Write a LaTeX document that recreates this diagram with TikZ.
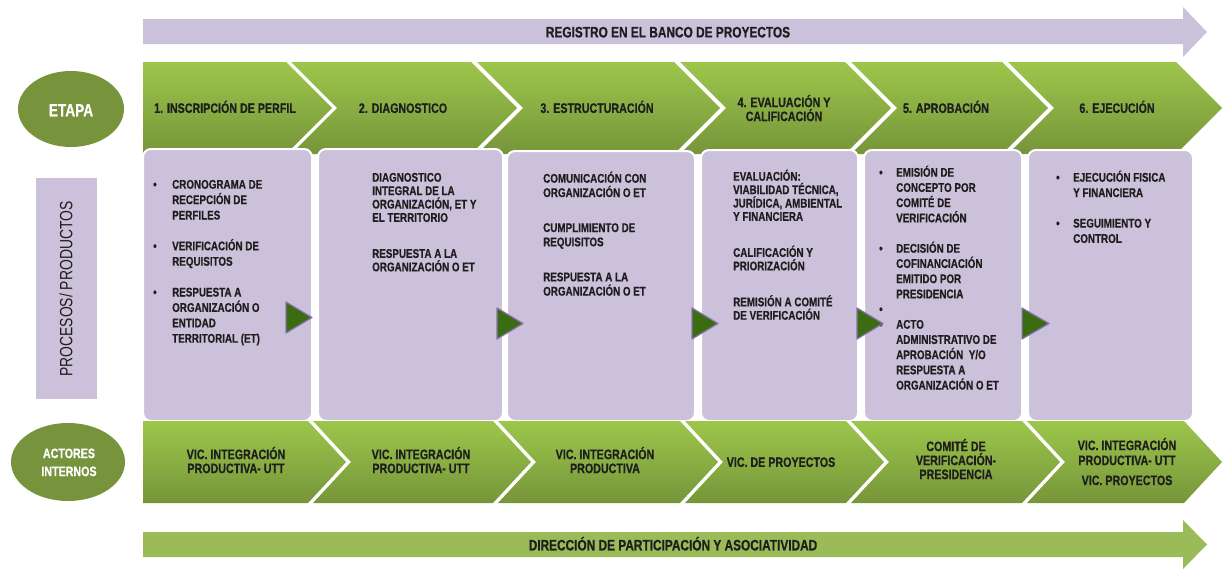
\documentclass[tikz,border=0pt]{standalone}
\usepackage{fontspec}
\newfontfamily\nf{Liberation Sans}[FakeStretch=0.78, BoldFeatures={FakeBold=0.6}]
\usetikzlibrary{shapes.geometric}
\definecolor{lila}{HTML}{CCC1DA}
\definecolor{gtop}{HTML}{9DC64B}
\definecolor{gbot}{HTML}{76953A}
\definecolor{oliv}{HTML}{77933C}
\definecolor{arrg}{HTML}{9BBB59}
\definecolor{trig}{HTML}{3B6C12}
\definecolor{trib}{HTML}{8A72AE}
\definecolor{txt}{HTML}{1E1E1E}
\newcommand{\bul}[1]{\makebox[#1][l]{•}}
\newcommand{\hin}[1]{\hspace*{#1}}
\tikzset{
  hdr/.style={font=\nf\bfseries\fontsize{13.7}{14}\selectfont, text=txt, inner sep=0pt, align=center},
  one/.style={text height=9.8pt, text depth=0pt},
  bar/.style={font=\nf\bfseries\fontsize{15.2}{16}\selectfont, text=txt, inner sep=0pt, text height=10.9pt, text depth=0pt},
  boxtxt/.style={font=\nf\bfseries\fontsize{12.6}{#1}\selectfont, text=txt, inner sep=0pt, align=left, anchor=north west},
  panel/.style={draw=white, line width=2pt, fill=lila, rounded corners=8pt},
  tri/.style={fill=trig, draw=trib, line width=1.2pt, line join=round},
  chev/.style={top color=gtop, bottom color=gbot},
  ell/.style={ellipse, fill=oliv, inner sep=0pt, text=white},
}
\begin{document}
\begin{tikzpicture}[x=1pt,y=-1pt]
\useasboundingbox (0,0) rectangle (1222,573);
% top arrow
\fill[lila] (143,19) -- (1183,19) -- (1183,7) -- (1207,32) -- (1183,57) -- (1183,44) -- (143,44) -- cycle;
\node[bar] (reg) at (668,32) {REGISTRO EN EL BANCO DE PROYECTOS};
% top chevrons
\shade[chev] (143,62) -- (286,62) -- (332,108) -- (286,154) -- (143,154) -- cycle;
\shade[chev] (291,62) -- (471,62) -- (517,108) -- (471,154) -- (291,154) -- (337,108) -- cycle;
\shade[chev] (477,62) -- (674,62) -- (720,108) -- (674,154) -- (477,154) -- (523,108) -- cycle;
\shade[chev] (680,62) -- (845,62) -- (891,108) -- (845,154) -- (680,154) -- (726,108) -- cycle;
\shade[chev] (851,62) -- (1002,62) -- (1048,108) -- (1002,154) -- (851,154) -- (897,108) -- cycle;
\shade[chev] (1008,62) -- (1176,62) -- (1222,108) -- (1176,154) -- (1008,154) -- (1054,108) -- cycle;
\node[hdr,one] (h1) at (225,108) {1. INSCRIPCIÓN DE PERFIL};
\node[hdr,one] (h2) at (403,108) {2. DIAGNOSTICO};
\node[hdr,one] (h3) at (597,108) {3. ESTRUCTURACIÓN};
\node[hdr,anchor=north] (h4) at (784,93.9) {\rule{0pt}{13pt}4. EVALUACIÓN Y\\CALIFICACIÓN};
\node[hdr,one] (h5) at (946,108) {5. APROBACIÓN};
\node[hdr,one] (h6) at (1117,108) {6. EJECUCIÓN};
% etapa
\node[ell, minimum width=106pt, minimum height=76pt] (etapa) at (71,109) {};
\node[font=\nf\bfseries\fontsize{17.5}{19}\selectfont, text=white, inner sep=0pt, text height=12.5pt, text depth=0pt] (etapat) at (71,110) {ETAPA};
% procesos label
\fill[lila] (36,178) rectangle (97,399);
\node[font=\nf\fontsize{17.8}{19}\selectfont, text=txt, inner sep=0pt, text height=12.7pt, text depth=0pt, rotate=90] (proc) at (66,289) {PROCESOS/ PRODUCTOS};
% panels
\draw[panel] (143,149) rectangle (312,421);
\draw[panel] (318,149) rectangle (503,421);
\draw[panel] (507,151) rectangle (695,421);
\draw[panel] (701,150) rectangle (858,421);
\draw[panel] (864,150) rectangle (1022,421);
\draw[panel] (1028,150) rectangle (1193,421);
\node[boxtxt=15.4pt] (b1) at (153,176.5) {\rule{0pt}{12pt}\bul{19pt}CRONOGRAMA DE\\ \hin{19pt}RECEPCIÓN DE\\ \hin{19pt}PERFILES\\[15.4pt] \bul{19pt}VERIFICACIÓN DE\\ \hin{19pt}REQUISITOS\\[15.4pt] \bul{19pt}RESPUESTA A\\ \hin{19pt}ORGANIZACIÓN O\\ \hin{19pt}ENTIDAD\\ \hin{19pt}TERRITORIAL (ET)};
\node[boxtxt=13.4pt] (b2) at (372,169.5) {\rule{0pt}{12pt}DIAGNOSTICO\\ INTEGRAL DE LA\\ ORGANIZACIÓN, ET Y\\ EL TERRITORIO\\[22.6pt] RESPUESTA A LA\\ ORGANIZACIÓN O ET};
\node[boxtxt=14.3pt] (b3) at (543,170.5) {\rule{0pt}{12pt}COMUNICACIÓN CON\\ ORGANIZACIÓN O ET\\[20.7pt] CUMPLIMIENTO DE\\ REQUISITOS\\[20.7pt] RESPUESTA A LA\\ ORGANIZACIÓN O ET};
\node[boxtxt=13.4pt] (b4) at (733,168.5) {\rule{0pt}{12pt}EVALUACIÓN:\\ VIABILIDAD TÉCNICA,\\ JURÍDICA, AMBIENTAL\\ Y FINANCIERA\\[22.6pt] CALIFICACIÓN Y\\ PRIORIZACIÓN\\[22.6pt] REMISIÓN A COMITÉ\\ DE VERIFICACIÓN};
\node[boxtxt=15.2pt] (b5) at (879,164.5) {\rule{0pt}{12pt}\bul{17pt}EMISIÓN DE\\ \hin{17pt}CONCEPTO POR\\ \hin{17pt}COMITÉ DE\\ \hin{17pt}VERIFICACIÓN\\[15.2pt] \bul{17pt}DECISIÓN DE\\ \hin{17pt}COFINANCIACIÓN\\ \hin{17pt}EMITIDO POR\\ \hin{17pt}PRESIDENCIA\\ \bul{17pt}\\ \bul{17pt}ACTO\\ \hin{17pt}ADMINISTRATIVO DE\\ \hin{17pt}APROBACIÓN\ \ Y/O\\ \hin{17pt}RESPUESTA A\\ \hin{17pt}ORGANIZACIÓN O ET};
\node[boxtxt=15.3pt] (b6) at (1056,169.5) {\rule{0pt}{12pt}\bul{17pt}EJECUCIÓN FISICA\\ \hin{17pt}Y FINANCIERA\\[15.3pt] \bul{17pt}SEGUIMIENTO Y\\ \hin{17pt}CONTROL};
% triangles
\filldraw[tri] (286,302) -- (312,317.5) -- (286,333) -- cycle;
\filldraw[tri] (497,308) -- (523,323.5) -- (497,339) -- cycle;
\filldraw[tri] (692,308) -- (718,323.5) -- (692,339) -- cycle;
\filldraw[tri] (857,308) -- (883,323.5) -- (857,339) -- cycle;
\filldraw[tri] (1022,308) -- (1049,323.5) -- (1022,339) -- cycle;
% bottom chevrons
\shade[chev] (143,421) -- (308,421) -- (346,462) -- (308,503) -- (143,503) -- cycle;
\shade[chev] (313,421) -- (493,421) -- (531,462) -- (493,503) -- (313,503) -- (351,462) -- cycle;
\shade[chev] (498,421) -- (680,421) -- (718,462) -- (680,503) -- (498,503) -- (536,462) -- cycle;
\shade[chev] (685,421) -- (846,421) -- (884,462) -- (846,503) -- (685,503) -- (723,462) -- cycle;
\shade[chev] (851,421) -- (1022,421) -- (1060,462) -- (1022,503) -- (851,503) -- (889,462) -- cycle;
\shade[chev] (1027,421) -- (1184,421) -- (1222,462) -- (1184,503) -- (1027,503) -- (1065,462) -- cycle;
\node[hdr,anchor=north] (a1) at (236,445.9) {\rule{0pt}{13pt}VIC. INTEGRACIÓN\\PRODUCTIVA- UTT};
\node[hdr,anchor=north] (a2) at (421,445.9) {\rule{0pt}{13pt}VIC. INTEGRACIÓN\\PRODUCTIVA- UTT};
\node[hdr,anchor=north] (a3) at (605,445.9) {\rule{0pt}{13pt}VIC. INTEGRACIÓN\\PRODUCTIVA};
\node[hdr,one] (a4) at (781,462) {VIC. DE PROYECTOS};
\node[hdr,anchor=north] (a5) at (956,437.9) {\rule{0pt}{13pt}COMITÉ DE\\VERIFICACIÓN-\\PRESIDENCIA};
\node[hdr,anchor=north,font=\nf\bfseries\fontsize{13.7}{15}\selectfont] (a6) at (1127,436.9) {\rule{0pt}{13pt}VIC. INTEGRACIÓN\\PRODUCTIVA- UTT\\[5pt]VIC. PROYECTOS};
% actores
\node[ell, minimum width=114pt, minimum height=78pt] (act) at (68,462) {};
\node[font=\nf\bfseries\fontsize{13.7}{18}\selectfont, text=white, inner sep=0pt, align=center, anchor=north] (actt) at (69,444.9) {\rule{0pt}{13pt}ACTORES\\INTERNOS};
% bottom arrow
\fill[arrg] (143,532) -- (1183,532) -- (1183,520) -- (1207,544.5) -- (1183,569) -- (1183,557) -- (143,557) -- cycle;
\node[bar] (dir) at (673,545) {DIRECCIÓN DE PARTICIPACIÓN Y ASOCIATIVIDAD};
\end{tikzpicture}
\end{document}
